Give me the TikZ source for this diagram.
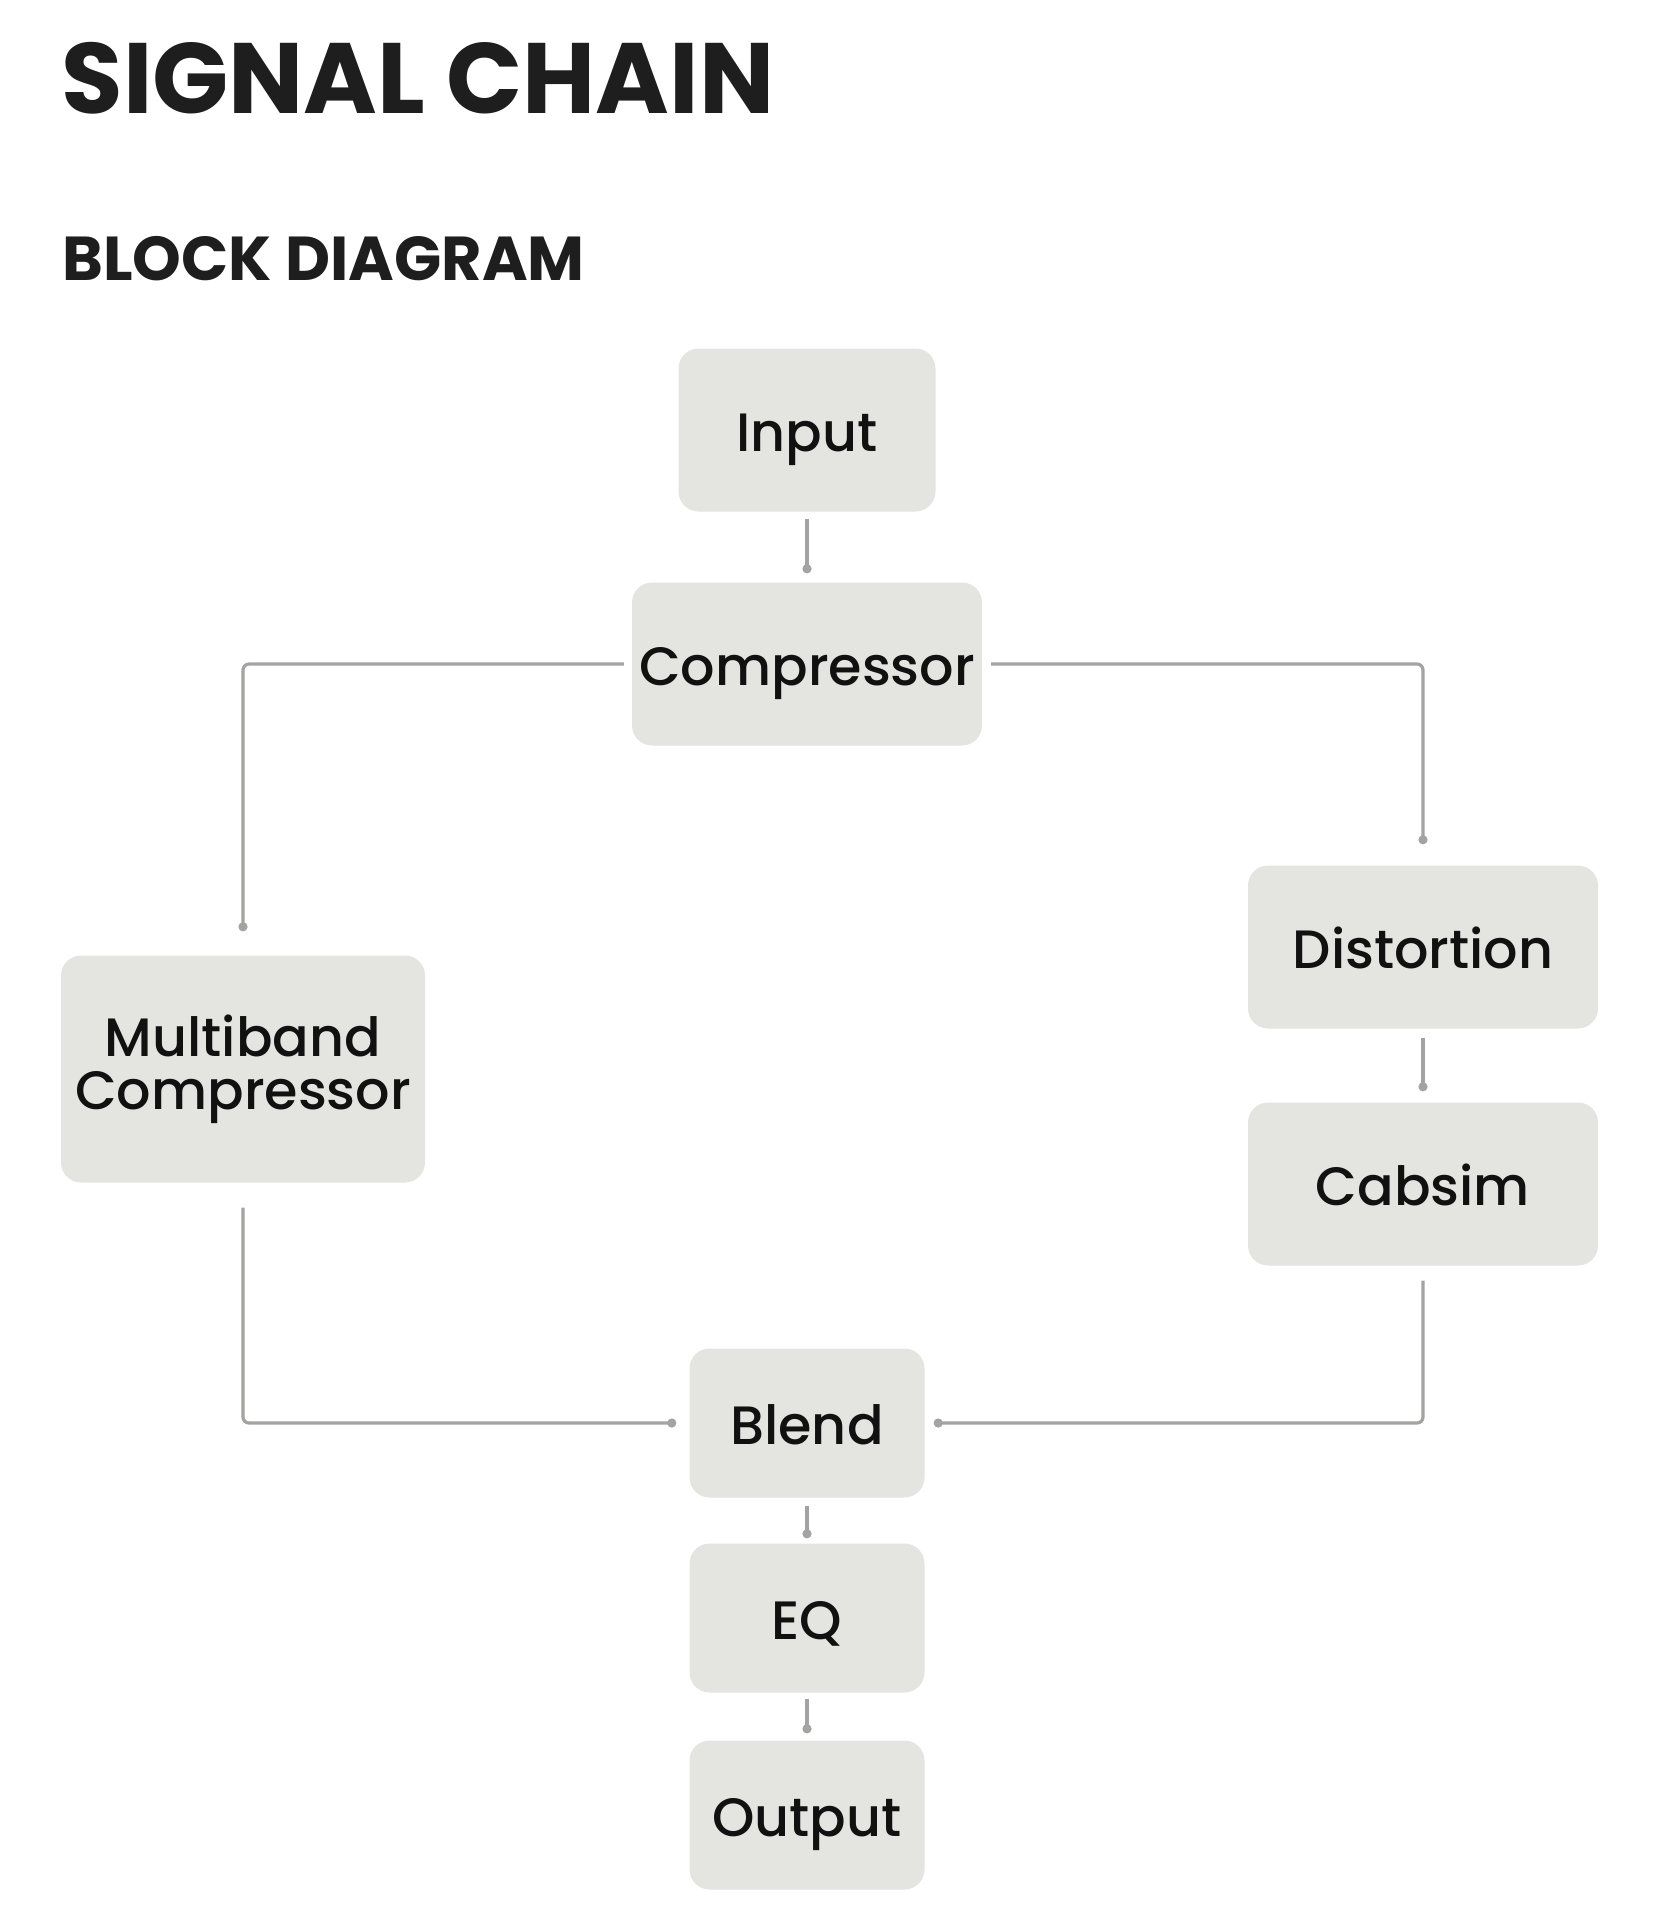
\documentclass[tikz,border=0pt]{standalone}
\usepackage{fontspec}
\setmainfont{Poppins}
\newfontfamily\boxfont{Poppins Medium}
\newfontfamily\headfont{Poppins Bold}
\usetikzlibrary{arrows.meta}
\definecolor{boxfill}{HTML}{E4E4E0}
\definecolor{wire}{HTML}{A3A3A1}
\definecolor{ink}{HTML}{111111}
\definecolor{headink}{HTML}{1E1E1E}
\begin{document}
\begin{tikzpicture}[x=1pt,y=-1pt,
  blk/.style={fill=boxfill, rounded corners=20pt, inner sep=0pt, text=ink,
    font=\boxfont\fontsize{54}{53}\selectfont, text height=43pt, text depth=0pt},
  wirestyle/.style={draw=wire, line width=3.2pt, rounded corners=6pt, -{Circle[length=9pt,width=9pt]}}
]
\useasboundingbox (0,0) rectangle (1658,1926);
\node[anchor=base west, text=headink, font=\headfont\fontsize{100}{100}\selectfont] (title) at (58,114) {SIGNAL CHAIN};
\node[anchor=base west, text=headink, font=\headfont\fontsize{62}{62}\selectfont] (sub) at (59,280) {BLOCK DIAGRAM};

\node[blk, minimum width=257pt, minimum height=163pt] (inp) at (807,430) {Input};
\node[blk, minimum width=350pt, minimum height=163pt] (comp) at (807,664) {Compressor};
\node[blk, minimum width=350pt, minimum height=163pt] (dist) at (1423,947) {Distortion};
\node[blk, minimum width=350pt, minimum height=163pt] (cab) at (1423,1184) {Cabsim};
\node[blk, minimum width=364pt, minimum height=227pt, text height=, text depth=, align=center] (mb) at (243,1069) {Multiband\\Compressor};
\node[blk, minimum width=235pt, minimum height=149pt] (blend) at (807,1423) {Blend};
\node[blk, minimum width=235pt, minimum height=149pt] (eq) at (807,1618) {EQ};
\node[blk, minimum width=235pt, minimum height=149pt] (out) at (807,1815) {Output};

\draw[wirestyle, shorten <=7pt, shorten >=9pt] (inp.south) -- (comp.north);
\draw[wirestyle, shorten <=8pt, shorten >=24pt] (comp.west) -| (mb.north);
\draw[wirestyle, shorten <=9pt, shorten >=21pt] (comp.east) -| (dist.north);
\draw[wirestyle, shorten <=9pt, shorten >=11pt] (dist.south) -- (cab.north);
\draw[wirestyle, shorten <=25pt, shorten >=13pt] (mb.south) |- (blend.west);
\draw[wirestyle, shorten <=15pt, shorten >=9pt] (cab.south) |- (blend.east);
\draw[wirestyle, shorten <=8pt, shorten >=5pt] (blend.south) -- (eq.north);
\draw[wirestyle, shorten <=6pt, shorten >=7pt] (eq.south) -- (out.north);
\end{tikzpicture}
\end{document}
